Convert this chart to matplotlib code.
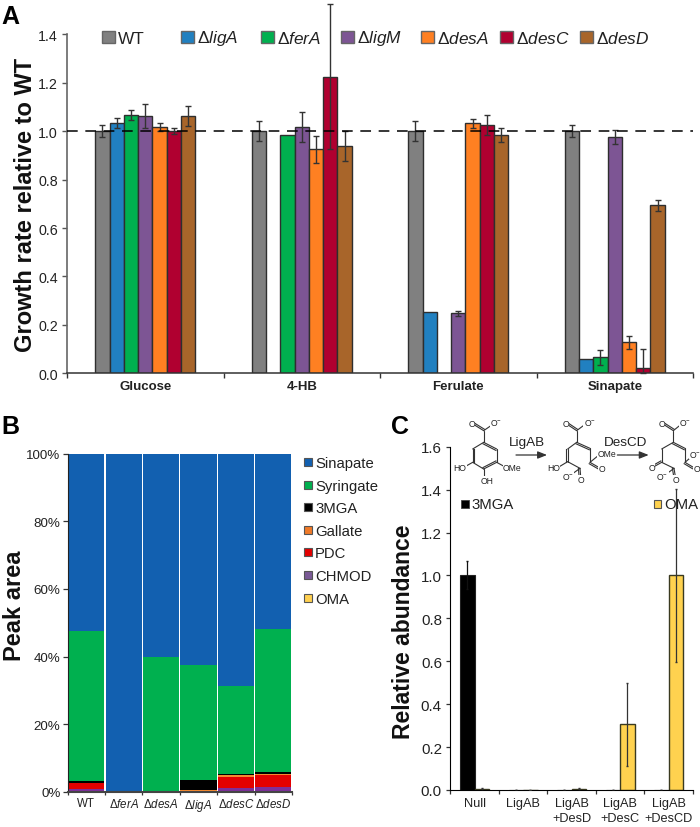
import numpy as np
import matplotlib
matplotlib.use("Agg")
import matplotlib.pyplot as plt
from matplotlib.patches import Rectangle

plt.rcParams['font.family'] = ['Liberation Sans', 'DejaVu Sans']
plt.rcParams['mathtext.fontset'] = 'custom'
plt.rcParams['mathtext.rm'] = 'Liberation Sans'
plt.rcParams['mathtext.it'] = 'Liberation Sans:italic'
plt.rcParams['mathtext.bf'] = 'Liberation Sans:bold'

# Panel A
substrates = ['Glucose', '4-HB', 'Ferulate', 'Sinapate']
strains = ['WT', 'ligA', 'ferA', 'ligM', 'desA', 'desC', 'desD']
strain_colors = ['#808080', '#2180C0', '#00B04F', '#7D5594', '#FF8022', '#B00030', '#A8652A']
nan = float('nan')
wt_vals = [1.0, 1.0, 1.0, 1.0]
wt_errs = [0.025, 0.04, 0.04, 0.024]
liga_vals = [1.033, nan, 0.253, 0.06]
liga_errs = [0.022, nan, nan, nan]
fera_vals = [1.067, 0.985, nan, 0.066]
fera_errs = [0.02, nan, nan, 0.03]
ligm_vals = [1.063, 1.017, 0.247, 0.975]
ligm_errs = [0.05, 0.062, 0.012, 0.028]
desa_vals = [1.017, 0.925, 1.032, 0.128]
desa_errs = [0.017, 0.055, 0.02, 0.027]
desc_vals = [1.0, 1.225, 1.025, 0.022]
desc_errs = [0.012, 0.30, 0.04, 0.08]
desd_vals = [1.063, 0.94, 0.985, 0.693]
desd_errs = [0.04, 0.062, 0.028, 0.023]
a_vals = [wt_vals, liga_vals, fera_vals, ligm_vals, desa_vals, desc_vals, desd_vals]
a_errs = [wt_errs, liga_errs, fera_errs, ligm_errs, desa_errs, desc_errs, desd_errs]

# Panel B (percent of peak area)
b_strains = ['WT', 'ferA', 'desA', 'ligA', 'desC', 'desD']
chmod = [0.7, 0, 0, 0, 1.2, 1.3]
oma = [0, 0, 0, 0, 0, 0]
pdc = [1.8, 0, 0, 0, 3.2, 3.7]
gallate = [0.1, 0, 0, 0.4, 0.4, 0.2]
mga = [0.6, 0, 0, 3.0, 0.5, 0.6]
syringate = [44.4, 0, 40.0, 34.0, 26.0, 42.2]
sinapate = [52.4, 100, 60.0, 62.6, 68.7, 52.0]
b_stack = [oma, chmod, pdc, gallate, mga, syringate, sinapate]
b_stack_colors = ['#FFD050', '#7D2F9A', '#E30000', '#F58A30', '#000000', '#00B04F', '#1260B0']
b_legend = ['Sinapate', 'Syringate', '3MGA', 'Gallate', 'PDC', 'CHMOD', 'OMA']
b_legend_colors = ['#1260B0', '#00B04F', '#000000', '#F07A28', '#E30000', '#7A5A96', '#FFD050']

# Panel C
c_labels = ['Null', 'LigAB', 'LigAB\n+DesD', 'LigAB\n+DesC', 'LigAB\n+DesCD']
mga_vals = [1.0, 0.002, 0.002, 0.002, 0.002]
mga_errs = [0.065, 0, 0, 0, 0]
oma_vals = [0.006, 0.002, 0.006, 0.307, 1.0]
oma_errs = [0.003, 0, 0.003, 0.193, 0.405]

W, H = 700, 828
fig = plt.figure(figsize=(7.0, 8.28), dpi=100)


def axes_px(l, t, r, b):
    return fig.add_axes([l / W, 1 - b / H, (r - l) / W, (b - t) / H])


# overlay in pixel coordinates for labels, legends and the pathway sketch
ov = fig.add_axes([0, 0, 1, 1], zorder=5)
ov.set_xlim(0, W)
ov.set_ylim(H, 0)
ov.axis('off')
ov.patch.set_alpha(0)


def mut(name):
    return 'Δ$\\mathit{' + name + '}$'


# ---------- A ----------
axA = axes_px(67, 35.3, 693, 374.3)
n = len(strains)
w = 0.0913
for i, (vals, errs, col) in enumerate(zip(a_vals, a_errs, strain_colors)):
    x = np.arange(len(substrates)) + 0.5 + (i - (n - 1) / 2) * w
    axA.bar(x, vals, width=w, color=col, edgecolor='#2e2e2e', linewidth=1.0, zorder=2)
    lower = np.minimum(np.array(errs), np.array(vals))
    axA.errorbar(x, vals, yerr=[lower, errs], fmt='none', ecolor='#333333', elinewidth=1.0,
                 capsize=2.2, capthick=1.0, zorder=3, clip_on=False)
axA.axhline(1.0, color='black', lw=1.1, dashes=(7, 5), zorder=4)
axA.set_xlim(0, 4)
axA.set_ylim(0, 1.4)
axA.set_yticks(np.arange(0, 1.41, 0.2))
axA.set_yticklabels([f'{v:.1f}' for v in np.arange(0, 1.41, 0.2)], fontsize=10.3, color='#222222')
axA.set_xticks(range(5))
axA.set_xticklabels([])
axA.set_xticks(np.arange(4) + 0.5, minor=True)
axA.set_xticklabels(substrates, minor=True, fontsize=9.5, fontweight='bold', color='#222222')
axA.tick_params(axis='x', which='minor', length=0, pad=5)
axA.tick_params(axis='x', which='major', length=3.5, width=1, color='#333333')
axA.tick_params(axis='y', length=3.5, width=1, color='#555555', pad=3)
for s in ['top', 'right']:
    axA.spines[s].set_visible(False)
axA.spines['left'].set_color('#666666')
axA.spines['left'].set_linewidth(1.2)
axA.spines['bottom'].set_color('#333333')
axA.spines['bottom'].set_linewidth(1.1)
ov.text(26, 205, 'Growth rate relative to WT', rotation=90, fontsize=17, fontweight='bold',
        ha='center', va='center', color='#111111')
ov.text(1, 17, 'A', fontsize=18, fontweight='bold', ha='left', va='center')

a_leg_x = [102, 181, 261, 341, 421, 500, 580]
for x0, name, col in zip(a_leg_x, strains, strain_colors):
    ov.add_patch(Rectangle((x0, 32), 12.5, 12, facecolor=col, edgecolor='#666666', lw=1))
    ov.text(x0 + 16, 43.5, name if name == 'WT' else mut(name), fontsize=12.4,
            va='baseline', ha='left', color='#222222')

# ---------- B ----------
axB = axes_px(67.5, 454.7, 292, 792.7)
bottom = np.zeros(len(b_strains))
xb = np.arange(len(b_strains))
for vals, col in zip(b_stack, b_stack_colors):
    axB.bar(xb, vals, width=0.965, bottom=bottom, color=col, linewidth=0, zorder=2)
    bottom += np.array(vals)
axB.set_xlim(-0.5, 5.5)
axB.set_ylim(0, 100)
axB.set_yticks(range(0, 101, 20))
axB.set_yticklabels([f'{v}%' for v in range(0, 101, 20)], fontsize=9.6, color='#222222')
axB.set_xticks(np.arange(7) - 0.5)
axB.set_xticklabels([])
axB.set_xticks(xb, minor=True)
axB.set_xticklabels([s if s == 'WT' else mut(s) for s in b_strains], minor=True,
                    fontsize=8.3, color='#222222')
axB.tick_params(axis='x', which='minor', length=0, pad=4)
axB.tick_params(axis='x', which='major', length=2, width=0.9, color='#333333')
axB.tick_params(axis='y', length=3.5, width=0.9, color='#333333', pad=1.5)
for s in ['top', 'right']:
    axB.spines[s].set_visible(False)
axB.spines['left'].set_color('#222222')
axB.spines['bottom'].set_color('#444444')
axB.spines['bottom'].set_linewidth(1.5)
ov.text(15, 606, 'Peak area', rotation=90, fontsize=17, fontweight='bold',
        ha='center', va='center', color='#111111')
ov.text(1, 427, 'B', fontsize=18, fontweight='bold', ha='left', va='center')
for k, (name, col) in enumerate(zip(b_legend, b_legend_colors)):
    yc = 463 + k * 22.6
    ov.add_patch(Rectangle((304, yc - 4), 7.5, 8, facecolor=col, edgecolor='#555555', lw=0.8))
    ov.text(315, yc + 5, name, fontsize=10.7, va='baseline', ha='left', color='#222222')

# ---------- C ----------
axC = axes_px(450.3, 447.7, 693, 791)
xc = np.arange(len(c_labels)) + 0.5
wc = 0.3
axC.bar(xc - wc / 2, mga_vals, width=wc, color='black', edgecolor='#222222', lw=0.8, zorder=2)
axC.bar(xc + wc / 2, oma_vals, width=wc, color='#FFD24F', edgecolor='#3a3a20', lw=1.0, zorder=2)
axC.errorbar(xc - wc / 2, mga_vals, yerr=mga_errs, fmt='none', ecolor='#111111',
             elinewidth=0.9, capsize=1, zorder=3)
axC.errorbar(xc + wc / 2, oma_vals, yerr=oma_errs, fmt='none', ecolor='#333333',
             elinewidth=0.9, capsize=1, zorder=3)
axC.set_xlim(0, 5)
axC.set_ylim(0, 1.6)
axC.set_yticks(np.arange(0, 1.61, 0.2))
axC.set_yticklabels([f'{v:.1f}' for v in np.arange(0, 1.61, 0.2)], fontsize=10.9, color='#222222')
axC.set_xticks(range(6))
axC.set_xticklabels([])
axC.set_xticks(xc, minor=True)
axC.set_xticklabels(c_labels, minor=True, fontsize=9.2, color='#222222', linespacing=1.3)
axC.tick_params(axis='x', which='minor', length=0, pad=5)
axC.tick_params(axis='x', which='major', length=3, width=0.9, color='#333333')
axC.tick_params(axis='y', length=3, width=0.9, color='#333333', pad=3)
for s in ['top', 'right']:
    axC.spines[s].set_visible(False)
ov.text(404, 632, 'Relative abundance', rotation=90, fontsize=16.5, fontweight='bold',
        ha='center', va='center', color='#111111')
ov.text(391, 427, 'C', fontsize=18, fontweight='bold', ha='left', va='center')
ov.add_patch(Rectangle((460.5, 501), 8.5, 8, facecolor='black', edgecolor='#444444', lw=0.6))
ov.text(471.5, 509.5, '3MGA', fontsize=10.7, va='baseline', ha='left', color='#222222')
ov.add_patch(Rectangle((653.5, 501), 7.5, 8, facecolor='#FFD24F', edgecolor='#555555', lw=0.8))
ov.text(664.5, 509.5, 'OMA', fontsize=10.7, va='baseline', ha='left', color='#222222', zorder=1)


# ---------- pathway sketch ----------
def Z(pts):
    return [(400 + x / 3, 400 + y / 3) for x, y in pts]


def bond(a, b, double=False):
    (x0, y0), (x1, y1) = Z([a, b])
    ov.plot([x0, x1], [y0, y1], color='#333333', lw=0.8, solid_capstyle='round')
    if double:
        dx, dy = x1 - x0, y1 - y0
        L = np.hypot(dx, dy)
        nx, ny = -dy / L * 1.6, dx / L * 1.6
        ov.plot([x0 + nx, x1 + nx], [y0 + ny, y1 + ny], color='#333333', lw=0.8)


def atom(x, y, s):
    (px, py), = Z([(x, y)])
    ov.text(px, py, s, fontsize=6.2, ha='center', va='center', color='#222222',
            bbox=dict(fc='white', ec='none', pad=0.2))


# 3MGA
ring = [(251, 130), (290, 150), (290, 190), (251, 210), (218, 190), (218, 150)]
for k in range(6):
    bond(ring[k], ring[(k + 1) % 6], double=k in (0, 2, 4))
bond((251, 130), (251, 95))
bond((251, 95), (222, 77), True)
bond((251, 95), (280, 75))
bond((218, 190), (195, 203))
bond((290, 190), (312, 202))
bond((251, 210), (251, 230))
atom(215, 73, 'O'); atom(289, 70, 'O$^{-}$')
atom(180, 205, 'HO'); atom(337, 205, 'OMe'); atom(262, 244, 'OH')

# intermediate
bond((530, 130), (530, 95))
bond((530, 95), (503, 77), True)
bond((530, 95), (558, 74))
bond((530, 130), (570, 148), True)
bond((530, 130), (503, 150))
bond((503, 150), (503, 188), True)
bond((503, 188), (478, 203))
bond((503, 188), (540, 208))
bond((540, 208), (515, 226))
bond((540, 208), (542, 232), True)
bond((570, 148), (570, 190))
bond((570, 190), (592, 172))
bond((570, 190), (596, 205), True)
atom(497, 73, 'O'); atom(569, 70, 'O$^{-}$'); atom(460, 207, 'HO')
atom(503, 232, 'O$^{-}$'); atom(544, 242, 'O'); atom(620, 165, 'OMe'); atom(606, 208, 'O')

# product
bond((820, 130), (820, 95))
bond((820, 95), (792, 77), True)
bond((820, 95), (846, 74))
bond((820, 130), (855, 148), True)
bond((820, 130), (785, 150))
bond((785, 150), (785, 190))
bond((785, 190), (762, 203), True)
bond((785, 190), (822, 208))
bond((822, 208), (798, 226))
bond((822, 208), (826, 232), True)
bond((855, 148), (855, 190))
bond((855, 190), (876, 172))
bond((855, 190), (880, 205), True)
atom(785, 73, 'O'); atom(855, 70, 'O$^{-}$'); atom(755, 207, 'O')
atom(787, 232, 'O$^{-}$'); atom(828, 243, 'O'); atom(886, 165, 'O$^{-}$'); atom(890, 208, 'O')

for (x0, x1) in [(348, 441), (652, 746)]:
    (a, yy), (b, _) = Z([(x0, 168), (x1, 168)])
    ov.annotate('', xy=(b, yy), xytext=(a, yy),
                arrowprops=dict(arrowstyle='-|>,head_length=0.55,head_width=0.22', color='#333333',
                                lw=0.9, shrinkA=0, shrinkB=0))
ov.text(400 + 381 / 3, 400 + 130 / 3, 'LigAB', fontsize=9.7, ha='center', va='center', color='#222222')
ov.text(400 + 677 / 3, 400 + 130 / 3, 'DesCD', fontsize=9.7, ha='center', va='center', color='#222222')

fig.savefig('out.png', dpi=100, facecolor='white')
